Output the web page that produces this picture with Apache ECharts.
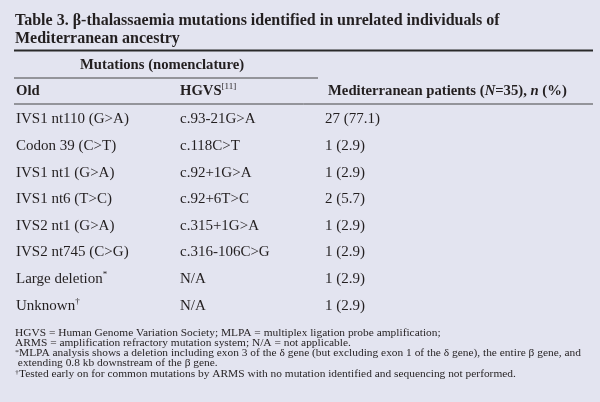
<!DOCTYPE html>
<html><head><meta charset="utf-8">
<script src="https://cdn.jsdelivr.net/npm/echarts@6/dist/echarts.min.js"></script>
<style>html,body{margin:0;padding:0;background:#e3e4f0}#main{width:600px;height:402px}</style>
</head><body><div id="main"></div>
<script>
// table rows
var oldNames = ['IVS1 nt110 (G>A)','Codon 39 (C>T)','IVS1 nt1 (G>A)','IVS1 nt6 (T>C)','IVS2 nt1 (G>A)','IVS2 nt745 (C>G)','Large deletion','Unknown'];
var oldMarks = ['','','','','','','*','\u2020'];
var hgvsNames = ['c.93-21G>A','c.118C>T','c.92+1G>A','c.92+6T>C','c.315+1G>A','c.316-106C>G','N/A','N/A'];
var patients = [27,1,1,2,1,1,1,1];
var percents = [77.1,2.9,2.9,5.7,2.9,2.9,2.9,2.9];
var footNotes = [
  'HGVS = Human Genome Variation Society; MLPA = multiplex ligation probe amplification;',
  'ARMS = amplification refractory mutation system; N/A = not applicable.',
  '{s|*}MLPA analysis shows a deletion including exon 3 of the \u03b4 gene (but excluding exon 1 of the \u03b4 gene), the entire \u03b2 gene, and',
  ' extending 0.8 kb downstream of the \u03b2 gene.',
  '{s|\u2020}Tested early on for common mutations by ARMS with no mutation identified and sequencing not performed.'
];

var FONT = '"Liberation Serif", "DejaVu Serif", serif';
var INK = '#231f20';
var sup = {fontFamily:FONT, fontSize:9, lineHeight:10, verticalAlign:'top', fill:INK};

function txt(x, y, text, size, bold, extra, sx){
  var st = {text:text, x:0, y:0, fontFamily:FONT, fontSize:size, fontWeight:bold?'bold':'normal',
    fill:INK, lineHeight:size+3, verticalAlign:'middle', rich:{s:sup}};
  for(var k in extra) st[k]=extra[k];
  return {type:'text', x:x, y:y, scaleX:sx||1, style:st};
}

function renderRow(params, api){
  var i = api.value(1);
  var y = api.coord([0, i])[1];
  var mark = oldMarks[i] ? '{s|'+oldMarks[i]+'}' : '';
  return {type:'group', children:[
    txt(16, y, oldNames[i]+mark, 15, false),
    txt(180, y, hgvsNames[i], 15, false),
    txt(325, y, patients[i]+' ('+percents[i].toFixed(1)+')', 15, false)
  ]};
}

var chart = echarts.init(document.getElementById('main'));
chart.setOption({
  backgroundColor:'#e3e4f0',
  animation:false,
  grid:{left:0,right:0,top:106,height:213},
  xAxis:{type:'value',min:0,max:35,show:false},
  yAxis:{type:'category',inverse:true,data:oldNames,show:false},
  series:[{type:'custom',renderItem:renderRow,encode:{x:0,y:1},
    data:patients.map(function(v,i){return [v,i];})}],
  graphic:[
    txt(15, 21, 'Table 3. \u03b2-thalassaemia mutations identified in unrelated individuals of', 16, true),
    txt(15, 38.5, 'Mediterranean ancestry', 16, true),
    {type:'line', shape:{x1:14,y1:50.5,x2:593,y2:50.5}, style:{stroke:'#2a2a2a',lineWidth:2}},
    txt(80, 65, 'Mutations (nomenclature)', 14.7, true),
    {type:'line', shape:{x1:14,y1:78,x2:318,y2:78}, style:{stroke:'#444',lineWidth:1}},
    txt(16, 91, 'Old', 14.7, true),
    txt(180, 91, 'HGVS{s|[11]}', 14.7, true),
    txt(328, 91, 'Mediterranean patients ({i|N}=35), {i|n} (%)', 14.7, true,
      {rich:{s:sup, i:{fontFamily:FONT,fontSize:14.7,fontWeight:'bold',fontStyle:'italic',fill:INK}}}),
    {type:'line', shape:{x1:14,y1:104,x2:593,y2:104}, style:{stroke:'#444',lineWidth:1}},
    txt(15, 353.5, footNotes.join('\n'), 10, false,
      {lineHeight:10.25, rich:{s:{fontFamily:FONT,fontSize:7,lineHeight:10.25,verticalAlign:'top',fill:INK}}}, 1.14)
  ]
});
</script>
</body></html>
